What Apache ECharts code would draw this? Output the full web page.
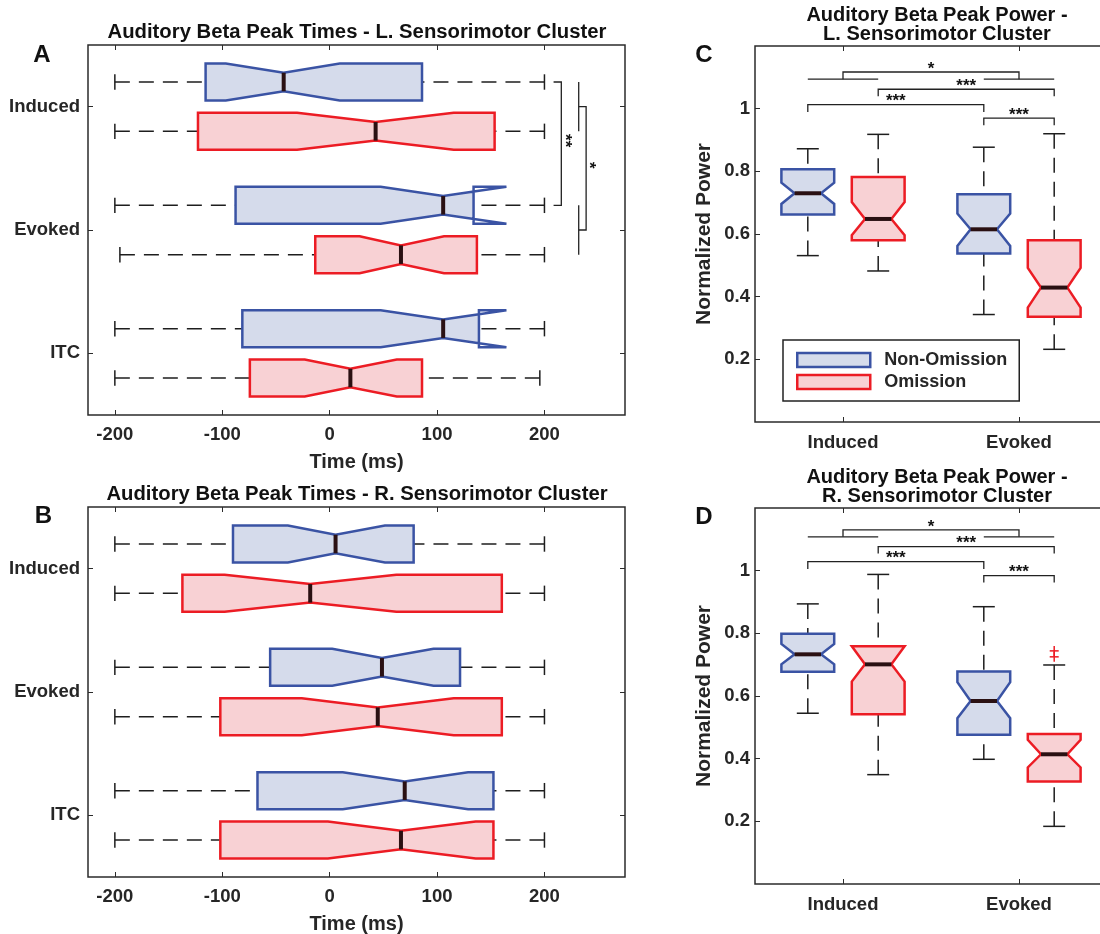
<!DOCTYPE html>
<html>
<head>
<meta charset="utf-8">
<script src="https://cdn.jsdelivr.net/npm/echarts@6/dist/echarts.min.js"></script>
<style>
  html, body { margin: 0; padding: 0; background: #fff; }
  #chart { width: 1100px; height: 934px; }
</style>
</head>
<body>
<div id="chart"></div>
<script>
// ---- data -------------------------------------------------------------
// Each box row: [whiskerMin, q1, notchLow, median, notchHigh, q3, whiskerMax]
const timeCategories = ['Induced', 'Evoked', 'ITC'];
const powerCategories = ['Induced', 'Evoked'];
const timeTicks = [-200, -100, 0, 100, 200];
const powerTicks = [0.2, 0.4, 0.6, 0.8, 1];

const leftTimesNonOmission = [
  [-200, -115.5, -96.7, -42.8, 9.4, 86, 200],
  [-200, -87.6, 47.5, 105.7, 164.6, 134, 200],
  [-200, -81.3, 47.5, 105.7, 164.6, 139, 200]
];
const leftTimesOmission = [
  [-200, -122.6, -30.3, 42.8, 115.5, 153.6, 200],
  [-195.3, -13.4, 27.9, 66.4, 106.5, 137.1, 200],
  [-200, -74.3, -23.2, 19.3, 62.5, 86, 195.7]
];
const rightTimesNonOmission = [
  [-200, -90, -38.9, 5.5, 51.5, 78.2, 200],
  [-200, -55.4, 2.4, 48.7, 96.7, 121.4, 200],
  [-200, -67.2, 12.2, 69.9, 128.9, 152.5, 200]
];
const rightTimesOmission = [
  [-200, -137.1, -97.8, -18.1, 62.1, 160.3, 200],
  [-200, -101.8, -25.9, 44.8, 115.5, 160.3, 200],
  [-200, -101.8, -1.6, 66.4, 136, 152.5, 200]
];
const leftPowerNonOmission = [
  [0.531, 0.662, 0.696, 0.730, 0.764, 0.807, 0.872],
  [0.343, 0.538, 0.562, 0.615, 0.665, 0.727, 0.877]
];
const leftPowerOmission = [
  [0.482, 0.580, 0.596, 0.648, 0.702, 0.782, 0.918],
  [0.232, 0.336, 0.365, 0.429, 0.492, 0.580, 0.920]
];
const rightPowerNonOmission = [
  [0.545, 0.677, 0.701, 0.733, 0.766, 0.799, 0.894],
  [0.398, 0.476, 0.529, 0.584, 0.644, 0.678, 0.885]
];
const rightPowerOmission = [
  [0.349, 0.542, 0.646, 0.701, 0.759, 0.759, 0.988],
  [0.184, 0.327, 0.372, 0.414, 0.460, 0.479, 0.699]
];
// outliers of the Evoked / Omission group (right cluster power)
const rightPowerOutliers = [0.744, 0.725];

// significance brackets: [fromPos, toPos, level, legEnd]
const leftTimeBrackets = [[0.8, 1.8, 215.7, 208.5], [1, 2, 238.8, 231.9]];
const leftTimeBracketLabels = ['**', '*'];
const leftTimeBracketSpans = [null, 0.2];
const leftPowerBrackets = [[1, 2, 1.117, 1.094], [1.2, 2.2, 1.062, 1.040], [0.8, 1.8, 1.013, 0.989], [1.8, 2.2, 0.970, 0.947]];
const leftPowerBracketLabels = ['*', '***', '***', '***'];
const leftPowerBracketSpans = [0.2, null, null, null];
const rightPowerBrackets = [[1, 2, 1.130, 1.108], [1.2, 2.2, 1.077, 1.055], [0.8, 1.8, 1.029, 1.005], [1.8, 2.2, 0.984, 0.962]];
const rightPowerBracketLabels = ['*', '***', '***', '***'];
const rightPowerBracketSpans = [0.2, null, null, null];

// ---- styling ----------------------------------------------------------
const FONT = '"Liberation Sans", Arial, Helvetica, sans-serif';
const BLUE = '#3a53a4', BLUE_FILL = '#d5dbeb';
const RED = '#ec1c24', RED_FILL = '#f8d1d4';
const INK = '#262626';
const GROUP_OFFSET = 0.2;

// Notched box renderer; horizontal = values along x, positions along y.
function notchedBox(horizontal, stroke, fill) {
  return function (params, api) {
    const pos = api.value(0);
    const mn = api.value(1), q1 = api.value(2), nl = api.value(3), md = api.value(4),
          nh = api.value(5), q3 = api.value(6), mx = api.value(7);
    const pt = (v, off) => horizontal ? api.coord([v, pos + off]) : api.coord([pos + off, v]);
    const H = 0.15, N = 0.075, C = 0.0625;
    const half = v => {
      if (v <= nl || v >= nh) return H;
      if (v <= md) return H - (H - N) * (v - nl) / (md - nl);
      return N + (H - N) * (v - md) / (nh - md);
    };
    // the fill stays inside [q1, q3]; a notch reaching past the box is drawn as outline only
    const stops = [q1, nl, md, nh, q3].map(v => Math.min(Math.max(v, q1), q3)).sort((a, b) => a - b);
    const fillPts = stops.map(v => pt(v, half(v))).concat(stops.slice().reverse().map(v => pt(v, -half(v))));
    const outline = [pt(q1, H), pt(nl, H), pt(md, N), pt(nh, H), pt(q3, H),
                     pt(q3, -H), pt(nh, -H), pt(md, -N), pt(nl, -H), pt(q1, -H)];
    const whisk = { stroke: '#1e1e1e', lineWidth: 1.5, lineDash: [15, 9], fill: 'none' };
    const capS = { stroke: '#1e1e1e', lineWidth: 1.5 };
    const line = (a, b, style) => ({ type: 'line', shape: { x1: a[0], y1: a[1], x2: b[0], y2: b[1] }, style });
    return {
      type: 'group',
      children: [
        { type: 'polyline', shape: { points: [pt(mn, 0), pt(q1, 0)] }, style: whisk },
        { type: 'polyline', shape: { points: [pt(mx, 0), pt(q3, 0)] }, style: whisk },
        line(pt(mn, -C), pt(mn, C), capS),
        line(pt(mx, -C), pt(mx, C), capS),
        { type: 'polygon', shape: { points: fillPts }, style: { fill: fill, stroke: 'none' } },
        { type: 'polygon', shape: { points: outline }, style: { fill: 'none', stroke: stroke, lineWidth: 2.5, lineJoin: 'miter' } },
        line(pt(md, -N), pt(md, N), { stroke: '#2a1012', lineWidth: 4 })
      ]
    };
  };
}

// Significance bracket renderer.
function bracket(horizontal, labels, spans) {
  return function (params, api) {
    const from = api.value(0), to = api.value(1), level = api.value(2), leg = api.value(3);
    const pt = (p, v) => horizontal ? api.coord([v, p]) : api.coord([p, v]);
    const style = { stroke: '#222', lineWidth: 1.3, fill: 'none' };
    const children = [
      { type: 'polyline', shape: { points: [pt(from, leg), pt(from, level), pt(to, level), pt(to, leg)] }, style }
    ];
    const span = spans[params.dataIndex];
    if (span != null) {
      [from, to].forEach(p => children.push({
        type: 'polyline', shape: { points: [pt(p - span, leg), pt(p + span, leg)] }, style
      }));
    }
    const mid = pt((from + to) / 2, level);
    children.push({
      type: 'text',
      x: horizontal ? mid[0] + 3 : mid[0],
      y: horizontal ? mid[1] - 3 : mid[1] - 3,
      rotation: horizontal ? -Math.PI / 2 : 0,
      style: {
        text: labels[params.dataIndex], font: 'bold 17px ' + FONT, fill: '#111',
        align: 'center', verticalAlign: 'middle'
      }
    });
    return { type: 'group', children };
  };
}

function plusMarks(params, api) {
  const c = api.coord([api.value(0), api.value(1)]);
  const s = { stroke: RED, lineWidth: 1.5 };
  return {
    type: 'group',
    children: [
      { type: 'line', shape: { x1: c[0] - 4.5, y1: c[1], x2: c[0] + 4.5, y2: c[1] }, style: s },
      { type: 'line', shape: { x1: c[0], y1: c[1] - 5, x2: c[0], y2: c[1] + 5 }, style: s }
    ]
  };
}

const boxRows = (rows, offset) => rows.map((r, i) => [i + 1 + offset].concat(r));

// ---- axes -------------------------------------------------------------
const labelStyle = { fontSize: 18.5, fontWeight: 'bold', fontFamily: FONT, color: INK };
const tickStyle = { show: true, inside: true, length: 5, lineStyle: { color: '#2b2b2b', width: 1 } };

function axis(opts) {
  const a = Object.assign({
    type: 'value',
    axisLine: { show: false, onZero: false },
    splitLine: { show: false },
    nameTextStyle: { fontSize: 20, fontWeight: 'bold', fontFamily: FONT, color: INK },
    nameLocation: 'middle'
  }, opts.base);
  a.axisTick = Object.assign({}, tickStyle, { customValues: opts.ticks });
  a.axisLabel = opts.mirror ? { show: false } :
    Object.assign({}, labelStyle, { customValues: opts.ticks, margin: opts.margin, formatter: opts.formatter });
  return a;
}

const catFmt = cats => v => cats[Math.round(v) - 1];
const numFmt = v => String(Math.round(v * 10) / 10);

const grids = [
  { left: 88, top: 45, width: 537, height: 370 },
  { left: 88, top: 507, width: 537, height: 370 },
  { left: 755, top: 46, width: 352, height: 376 },
  { left: 755, top: 508, width: 352, height: 376 }
].map(g => Object.assign({
  show: true, borderColor: '#2b2b2b', borderWidth: 1.5, backgroundColor: 'transparent',
  containLabel: false, outerBoundsMode: 'none'
}, g));

const xAxes = [], yAxes = [];
[0, 1].forEach(g => {
  xAxes.push(axis({ base: { gridIndex: g, min: -225, max: 275, position: 'bottom', name: 'Time (ms)', nameGap: 37 },
                    ticks: timeTicks, margin: 10, formatter: v => String(v) }));
  xAxes.push(axis({ base: { gridIndex: g, min: -225, max: 275, position: 'top' }, ticks: timeTicks, mirror: true }));
  yAxes.push(axis({ base: { gridIndex: g, min: 0.5, max: 3.5, inverse: true, position: 'left' },
                    ticks: [1, 2, 3], margin: 8, formatter: catFmt(timeCategories) }));
  yAxes.push(axis({ base: { gridIndex: g, min: 0.5, max: 3.5, inverse: true, position: 'right' }, ticks: [1, 2, 3], mirror: true }));
});
[2, 3].forEach(g => {
  xAxes.push(axis({ base: { gridIndex: g, min: 0.5, max: 2.5, position: 'bottom' },
                    ticks: [1, 2], margin: 11, formatter: catFmt(powerCategories) }));
  xAxes.push(axis({ base: { gridIndex: g, min: 0.5, max: 2.5, position: 'top' }, ticks: [1, 2], mirror: true }));
  yAxes.push(axis({ base: { gridIndex: g, min: 0, max: 1.2, position: 'left', name: 'Normalized Power', nameGap: 40,
                            nameTextStyle: { fontSize: 21, fontWeight: 'bold', fontFamily: FONT, color: INK } },
                    ticks: powerTicks, margin: 5, formatter: numFmt }));
  yAxes.push(axis({ base: { gridIndex: g, min: 0, max: 1.2, position: 'right' }, ticks: powerTicks, mirror: true }));
});

// ---- series -----------------------------------------------------------
function boxSeries(name, axisIdx, horizontal, rows, offset, stroke, fill) {
  return {
    name, type: 'custom', coordinateSystem: 'cartesian2d',
    xAxisIndex: axisIdx * 2, yAxisIndex: axisIdx * 2,
    renderItem: notchedBox(horizontal, stroke, fill),
    data: boxRows(rows, offset), silent: true, z: 3
  };
}
function bracketSeries(axisIdx, horizontal, rows, labels, spans) {
  return {
    name: 'significance', type: 'custom', coordinateSystem: 'cartesian2d',
    xAxisIndex: axisIdx * 2, yAxisIndex: axisIdx * 2,
    renderItem: bracket(horizontal, labels, spans), data: rows, silent: true, z: 4
  };
}

const series = [
  boxSeries('Non-Omission', 0, true, leftTimesNonOmission, -GROUP_OFFSET, BLUE, BLUE_FILL),
  boxSeries('Omission', 0, true, leftTimesOmission, GROUP_OFFSET, RED, RED_FILL),
  boxSeries('Non-Omission', 1, true, rightTimesNonOmission, -GROUP_OFFSET, BLUE, BLUE_FILL),
  boxSeries('Omission', 1, true, rightTimesOmission, GROUP_OFFSET, RED, RED_FILL),
  boxSeries('Non-Omission', 2, false, leftPowerNonOmission, -GROUP_OFFSET, BLUE, BLUE_FILL),
  boxSeries('Omission', 2, false, leftPowerOmission, GROUP_OFFSET, RED, RED_FILL),
  boxSeries('Non-Omission', 3, false, rightPowerNonOmission, -GROUP_OFFSET, BLUE, BLUE_FILL),
  boxSeries('Omission', 3, false, rightPowerOmission, GROUP_OFFSET, RED, RED_FILL),
  bracketSeries(0, true, leftTimeBrackets, leftTimeBracketLabels, leftTimeBracketSpans),
  bracketSeries(2, false, leftPowerBrackets, leftPowerBracketLabels, leftPowerBracketSpans),
  bracketSeries(3, false, rightPowerBrackets, rightPowerBracketLabels, rightPowerBracketSpans),
  {
    name: 'outliers', type: 'custom', coordinateSystem: 'cartesian2d', xAxisIndex: 6, yAxisIndex: 6,
    renderItem: plusMarks, data: rightPowerOutliers.map(v => [2 + GROUP_OFFSET, v]), silent: true, z: 4
  }
];

// ---- titles and panel letters ----------------------------------------
const txt = (x, y, text, size, extra) => ({
  type: 'text', x, y,
  style: Object.assign({ text, font: 'bold ' + size + 'px ' + FONT, fill: '#111', align: 'center', verticalAlign: 'middle' }, extra || {})
});

const graphic = [
  txt(357, 32, 'Auditory Beta Peak Times - L. Sensorimotor Cluster', 20.3),
  txt(357, 494, 'Auditory Beta Peak Times - R. Sensorimotor Cluster', 20.3),
  txt(937, 25, 'Auditory Beta Peak Power -\nL. Sensorimotor Cluster', 20, { lineHeight: 18.5 }),
  txt(937, 487, 'Auditory Beta Peak Power -\nR. Sensorimotor Cluster', 20, { lineHeight: 18.5 }),
  txt(42, 55, 'A', 24),
  txt(43.5, 516.5, 'B', 24),
  txt(704, 55, 'C', 24),
  txt(704, 517.5, 'D', 24)
];

const chart = echarts.init(document.getElementById('chart'), null, { renderer: 'canvas' });
chart.setOption({
  animation: false,
  backgroundColor: '#fff',
  grid: grids,
  xAxis: xAxes,
  yAxis: yAxes,
  legend: {
    orient: 'vertical', left: 783, top: 340,
    itemWidth: 73, itemHeight: 14, itemGap: 4,
    padding: [11, 12, 10, 13],
    borderColor: '#222', borderWidth: 1.5,
    selectedMode: false,
    textStyle: { fontSize: 18, fontWeight: 'bold', fontFamily: FONT, color: INK, padding: [0, 0, 0, 9] },
    data: [
      { name: 'Non-Omission', icon: 'rect', itemStyle: { color: BLUE_FILL, borderColor: BLUE, borderWidth: 2.5 } },
      { name: 'Omission', icon: 'rect', itemStyle: { color: RED_FILL, borderColor: RED, borderWidth: 2.5 } }
    ]
  },
  graphic,
  series
});
</script>
</body>
</html>
